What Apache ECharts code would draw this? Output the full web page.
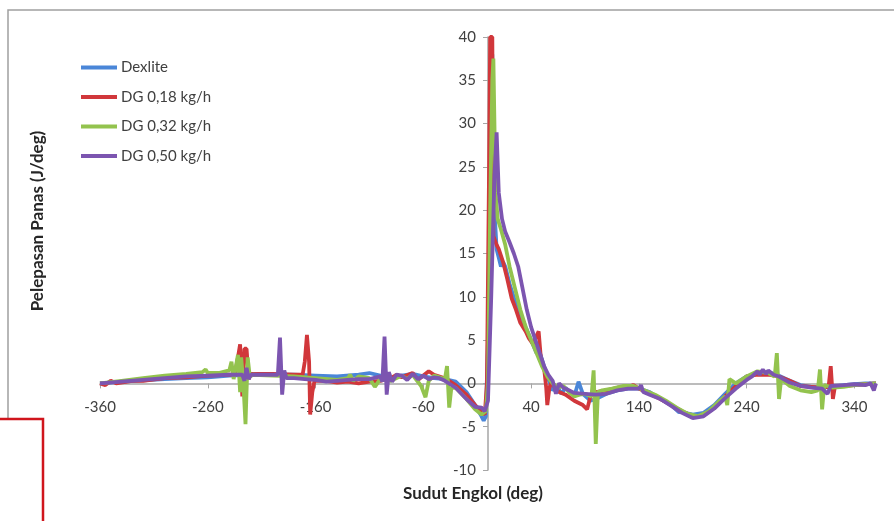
<!DOCTYPE html>
<html>
<head>
<meta charset="utf-8">
<script src="https://cdn.jsdelivr.net/npm/echarts@6/dist/echarts.min.js"></script>
<style>
  html, body { margin: 0; padding: 0; background: #fff; }
  #chart-container { width: 894px; height: 521px; }
</style>
</head>
<body>
<div id="chart-container"></div>
<script>
// crank angle (deg) and heat release (J/deg) per series
const dexliteDeg = [-360, -340, -320, -300, -280, -260, -240, -220, -200, -180, -160, -140, -120, -110, -100, -90, -80, -70, -60, -50, -40, -30, -20, -12, -6, -4, -2, 0, 2, 4, 6, 8, 10, 12, 14, 16, 20, 25, 30, 35, 40, 45, 48, 52, 56, 60, 64, 68, 72, 76, 80, 84, 88, 95, 100, 110, 120, 130, 140, 150, 160, 170, 177, 180, 190, 200, 210, 220, 230, 240, 250, 260, 270, 280, 290, 300, 310, 320, 330, 340, 350, 360];
const dexliteVal = [0, 0.2, 0.35, 0.5, 0.6, 0.7, 0.9, 1.0, 1.0, 1.0, 0.9, 0.8, 1.0, 1.2, 0.9, 0.6, 0.9, 1.1, 0.8, 0.6, 0.5, 0.2, -1.0, -2.5, -3.8, -4.3, -3.8, 5, 25, 38, 20, 15.5, 14.5, 13.5, 14, 13.5, 11.5, 9.5, 8, 6.5, 5, 3.5, 3.6, 2, 0.5, -0.8, -0.3, -1.2, -0.5, -1, -1.5, 0.2, -1.2, -2, -1.8, -1.2, -0.8, -0.6, -0.6, -1, -1.8, -2.5, -3.3, -3.3, -3.6, -3.4, -2.5, -1.2, 0, 0.8, 1.2, 1.3, 0.9, 0.3, -0.2, -0.4, -0.5, -0.4, -0.2, -0.1, 0, 0];

const dg018Deg = [-360, -355, -350, -345, -330, -320, -300, -280, -260, -240, -235, -232, -230, -228, -226, -224, -222, -220, -200, -180, -172, -170, -168, -166, -165, -163, -161, -150, -140, -130, -120, -110, -100, -90, -85, -80, -70, -65, -60, -55, -50, -40, -30, -20, -12, -6, -3, -1, 1, 2, 4, 5, 8, 10, 14, 18, 22, 26, 30, 35, 38, 42, 45, 47, 49, 52, 54, 55, 57, 59, 62, 66, 72, 80, 88, 92, 95, 100, 110, 120, 130, 135, 140, 150, 160, 170, 180, 190, 200, 210, 220, 230, 240, 250, 260, 270, 280, 290, 300, 310, 316, 318, 320, 322, 330, 340, 350, 360];
const dg018Val = [0, -0.2, 0.3, 0, 0.3, 0.3, 0.6, 0.7, 0.9, 1.0, 1.0, 3.0, 4.5, -1.5, 4, 4, 0.5, 1.1, 1.1, 1.0, 1.0, 2.5, 5.6, 2.5, -3.6, -1, 0.3, 0.3, 0.1, 0.2, 0, 0.2, 0.3, 0.6, 1.0, 0.7, 1.2, 0.4, 0.9, 1.4, 1.0, 0.6, -0.2, -1.3, -2.5, -3.3, -3.6, 0, 25, 40, 40, 17, 16, 15.5, 14, 12, 9.8, 8.5, 7, 6, 5.2, 4.5, 5.5, 6, 3, 1.8, -0.5, -2.5, -0.5, 0.2, -0.5, -1, -1.3, -2, -2.5, -3, -1.5, -1, -0.8, -0.5, -0.4, -0.2, -0.6, -1.2, -1.8, -2.5, -3.2, -3.8, -3.7, -2.8, -1.5, -0.3, 0.8, 1.0, 1.0, 0.8, 0.3, -0.3, -0.4, -0.5, -0.4, 2.0, -1.8, -0.3, -0.3, -0.2, -0.1, 0];

const dg032Deg = [-360, -340, -320, -300, -280, -265, -262, -260, -250, -240, -238, -236, -232, -230, -229, -227, -225, -223, -221, -218, -200, -180, -160, -140, -130, -128, -125, -120, -110, -105, -100, -90, -80, -75, -70, -62, -58, -55, -50, -40, -38, -36, -34, -30, -20, -12, -6, -2, 0, 2, 4, 5, 7, 9, 12, 16, 20, 25, 30, 35, 40, 45, 50, 55, 60, 65, 70, 75, 80, 85, 90, 96, 98, 100, 102, 106, 115, 125, 135, 145, 155, 165, 175, 185, 195, 205, 215, 220, 222, 224, 230, 240, 250, 260, 266, 268, 270, 272, 280, 290, 300, 306, 308, 310, 312, 320, 330, 340, 350, 360];
const dg032Val = [0, 0.3, 0.6, 0.9, 1.1, 1.3, 1.6, 1.2, 1.2, 1.5, 2.5, 0.5, 3.3, -1, 3, 0, -4.7, 3, 0.8, 1.0, 0.9, 0.8, 0.6, 0.4, 0.6, 1.0, 0.3, 0.8, 0.6, -0.4, 0.5, 0.3, 0.9, 0.5, 1.0, -0.3, -1.6, 0.3, 0.9, 0.5, 2.0, -2.8, -0.5, -0.5, -1.8, -3, -3.6, -3.2, 0, 20, 35, 37.5, 22, 19, 17.8, 16, 13.5, 11, 8.5, 6.5, 5, 3.5, 2, 0.8, 0, -0.5, -0.3, -1, -1.5, -1.3, -1.2, -1.5, 1.5, -7, -1, -0.8, -0.6, -0.3, -0.3, -0.8, -1.3, -2, -2.8, -3.5, -3.8, -3.2, -2, -1.5, -2.5, 0.5, 0, 0.8, 1.4, 1.2, 0.8, 3.5, -1.8, 0.5, -0.3, -0.8, -1.0, -0.8, 1.6, -3, -0.2, -0.5, -0.4, -0.2, -0.1, 0];

const dg050Deg = [-360, -340, -320, -300, -280, -260, -240, -228, -226, -224, -222, -220, -210, -200, -195, -193, -191, -189, -187, -180, -170, -160, -150, -140, -130, -120, -110, -100, -98, -96, -94, -92, -89, -85, -80, -75, -70, -65, -60, -55, -50, -45, -40, -30, -20, -12, -6, -3, 0, 3, 6, 8, 10, 13, 16, 20, 24, 28, 32, 36, 40, 44, 48, 52, 56, 60, 63, 66, 70, 75, 80, 90, 100, 110, 120, 130, 140, 142, 144, 150, 160, 170, 180, 190, 200, 210, 220, 230, 240, 245, 250, 252, 255, 258, 260, 265, 270, 280, 290, 300, 310, 315, 318, 330, 340, 350, 355, 358, 360];
const dg050Val = [0, 0.2, 0.4, 0.6, 0.8, 0.9, 1.0, 1.0, 0.3, 1.8, 0.5, 1.0, 1.0, 1.0, 1.0, 5.3, -1.3, 1.5, 0.6, 0.6, 0.5, 0.4, 0.2, 0.3, 0.4, 0.5, 0.5, 0.8, 0.2, 5.4, -1.3, 1.3, 0.2, 1.0, 0.9, 0.4, 1.1, 0.5, 0.9, 0.5, 0.7, 0.6, 0.3, -0.5, -1.8, -2.7, -2.8, -3.2, -2, 10, 24, 29, 22, 19, 17.5, 16.3, 15, 13.5, 11, 8.5, 6.5, 5, 3.5, 2, 1, 0.3, -1.2, 0, -0.5, -0.8, -1.1, -1.2, -1.3, -1.2, -0.8, -0.6, -0.6, -0.2, -1.0, -1.3, -1.8, -2.6, -3.4, -4.0, -3.8, -2.9, -1.7, -0.6, 0.4, 0.8, 1.4, 1.0, 1.6, 1.1, 1.5, 1.0, 0.8, 0.1, -0.3, -0.5, -0.6, -1.2, -0.3, -0.2, -0.1, -0.2, 0, -0.8, 0];

const seriesNames = ['Dexlite', 'DG 0,18 kg/h', 'DG 0,32 kg/h', 'DG 0,50 kg/h'];
const seriesColors = ['#4a86d8', '#d1373b', '#93c34e', '#7c55b0'];
const xTicks = [-360, -260, -160, -60, 40, 140, 240, 340];

const chartDom = document.getElementById('chart-container');
const myChart = echarts.init(chartDom);

const zip = (xs, ys) => xs.map((x, i) => [x, ys[i]]);
const allData = [
    zip(dexliteDeg, dexliteVal),
    zip(dg018Deg, dg018Val),
    zip(dg032Deg, dg032Val),
    zip(dg050Deg, dg050Val)
];

const font = 'Lato, "Open Sans", sans-serif';

// grid box; axes are shifted onto the zero lines with offset
const gridLeft = 100, gridRight = 18, gridTop = 37, gridBottom = 51;
const plotW = 894 - gridLeft - gridRight;
const plotH = 521 - gridTop - gridBottom;
const xZeroOffset = -plotW * 360 / 720;  // y axis sits on x = 0
const yZeroOffset = -plotH * 10 / 50;    // x axis sits on y = 0

const option = {
    animation: false,
    backgroundColor: '#fff',
    grid: { left: gridLeft, right: gridRight, top: gridTop, bottom: gridBottom },
    legend: {
        data: seriesNames,
        orient: 'vertical',
        left: 81,
        top: 60,
        padding: 0,
        itemWidth: 36,
        itemHeight: 4,
        itemGap: 14.5,
        icon: 'rect',
        textStyle: { fontFamily: font, fontSize: 15, color: '#404040', padding: [0, 0, 0, -1] }
    },
    xAxis: {
        type: 'value',
        min: -360,
        max: 360,
        interval: 20,
        offset: yZeroOffset,
        axisLine: { onZero: false, lineStyle: { color: '#a6a6a6', width: 1.5 } },
        axisTick: { show: true, customValues: xTicks, length: 5, lineStyle: { color: '#a6a6a6' } },
        axisLabel: {
            customValues: xTicks,
            margin: 16,
            fontFamily: font,
            fontSize: 15,
            color: '#404040'
        },
        splitLine: { show: false }
    },
    yAxis: {
        type: 'value',
        min: -10,
        max: 40,
        interval: 5,
        offset: xZeroOffset,
        axisLine: { show: true, onZero: false, lineStyle: { color: '#a6a6a6', width: 1.5 } },
        axisTick: { show: true, length: 5, lineStyle: { color: '#a6a6a6' } },
        axisLabel: { margin: 12, fontFamily: font, fontSize: 15, color: '#404040' },
        splitLine: { show: false }
    },
    series: seriesNames.map((name, i) => ({
        name: name,
        type: 'line',
        data: allData[i],
        color: seriesColors[i],
        showSymbol: false,
        symbol: 'none',
        lineStyle: { width: 3.8, color: seriesColors[i] },
        z: 2 + i
    })),
    graphic: [
        // outer chart border (grey) and the red box cut into the bottom left
        {
            type: 'rect',
            shape: { x: 8, y: 10, width: 920, height: 560 },
            style: { fill: 'none', stroke: '#a0a0a0', lineWidth: 1.5 },
            silent: true,
            z: -1
        },
        {
            type: 'rect',
            shape: { x: -10, y: 419, width: 53, height: 120 },
            style: { fill: '#fff', stroke: '#d0151c', lineWidth: 2.5 },
            silent: true,
            z: 10
        },
        {
            type: 'text',
            x: 38,
            y: 221,
            rotation: Math.PI / 2,
            style: {
                text: 'Pelepasan Panas (J/deg)',
                fontFamily: font,
                fontSize: 17,
                fontWeight: 'bold',
                fill: '#262626',
                align: 'center',
                verticalAlign: 'middle'
            }
        },
        {
            type: 'text',
            x: 473,
            y: 494,
            style: {
                text: 'Sudut Engkol (deg)',
                fontFamily: font,
                fontSize: 17,
                fontWeight: 'bold',
                fill: '#262626',
                align: 'center',
                verticalAlign: 'middle'
            }
        }
    ]
};

myChart.setOption(option);
</script>
</body>
</html>
